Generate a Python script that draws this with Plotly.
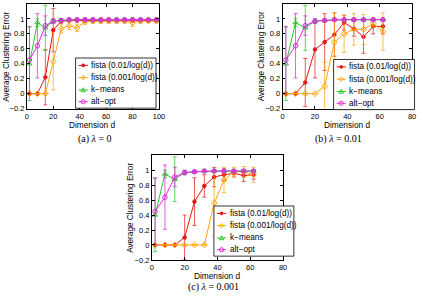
import plotly.graph_objects as go

# ---------------- data ----------------
X_A = [2, 8, 14, 20, 26, 32, 38, 44, 50, 56, 62, 68, 74, 80, 86, 92, 98]
X_BC = [2, 8, 14, 20, 26, 32, 38, 44, 50, 56, 62]

SERIES_NAMES = ["fista (0.01/log(d))", "fista (0.001/log(d))", "k\u2212means", "alt\u2212opt"]

# k-means and alt-opt (same in all panels)
KMEANS = [0.40, 0.95, 0.88, 0.97, 0.98, 0.99, 0.99, 0.99, 0.99, 0.99, 0.99, 0.99, 0.99, 0.99, 0.99, 0.99, 0.99]
KMEANS_ERR = [0.49, 0.05, 0.30, 0.03, 0.01, 0.01, 0.01, 0.01, 0.01, 0.01, 0.01, 0.01, 0.01, 0.01, 0.01, 0.01, 0.01]
ALTOPT = [0.45, 0.64, 0.91, 0.97, 0.98, 0.99, 0.99, 0.99, 0.99, 0.99, 0.99, 0.99, 0.99, 0.99, 0.99, 0.99, 0.99]
ALTOPT_ERR = [0.45, 0.43, 0.13, 0.03, 0.02, 0.01, 0.01, 0.01, 0.01, 0.01, 0.01, 0.01, 0.01, 0.01, 0.01, 0.01, 0.01]

# panel (a) lambda = 0
A_F01 = [0, 0, 0.22, 0.85, 0.97, 0.98, 0.98, 0.98, 0.98, 0.98, 0.98, 0.98, 0.98, 0.98, 0.98, 0.98, 0.98]
A_F01_ERR = [0, 0, 0.37, 0.29, 0.03, 0.02, 0.02, 0.02, 0.02, 0.02, 0.02, 0.02, 0.02, 0.02, 0.02, 0.02, 0.02]
A_F001 = [0, 0, 0, 0.43, 0.87, 0.91, 0.88, 0.96, 0.97, 0.97, 0.97, 0.97, 0.97, 0.95, 0.97, 0.97, 0.97]
A_F001_ERR = [0, 0, 0, 0.38, 0.06, 0.05, 0.05, 0.03, 0.03, 0.03, 0.03, 0.03, 0.03, 0.05, 0.03, 0.02, 0.02]

# panel (b) lambda = 0.01
B_F01 = [0, 0, 0.15, 0.59, 0.69, 0.79, 0.95, 0.87, 0.76, 0.90, 0.90]
B_F01_ERR = [0, 0, 0.32, 0.38, 0.38, 0.29, 0.10, 0.10, 0.22, 0.10, 0.10]
B_F001 = [0, 0, 0, 0, 0.10, 0.69, 0.80, 0.86, 0.86, 0.94, 0.83]
B_F001_ERR = [0, 0, 0, 0, 0.32, 0.39, 0.25, 0.21, 0.20, 0.05, 0.25]

# panel (c) lambda = 0.001
C_F01 = [0, 0, 0, 0.10, 0.58, 0.79, 0.91, 0.94, 0.96, 0.93, 0.94]
C_F01_ERR = [0, 0, 0, 0.30, 0.32, 0.15, 0.13, 0.08, 0.05, 0.08, 0.06]
C_F001 = [0, 0, 0, 0, 0, 0, 0.56, 0.87, 0.98, 0.98, 0.94]
C_F001_ERR = [0, 0, 0, 0, 0, 0, 0.44, 0.17, 0.06, 0.07, 0.10]

Y_TICKS = [-0.2, 0, 0.2, 0.4, 0.6, 0.8, 1]
Y_TICKTEXT = ["\u22120.2", "0", "0.2", "0.4", "0.6", "0.8", "1"]
X_TICKS_A = [0, 20, 40, 60, 80, 100]
X_TICKS_BC = [0, 20, 40, 60, 80]
CAPTIONS = ["(a) <i>\u03bb</i> = 0", "(b) <i>\u03bb</i> = 0.01", "(c) <i>\u03bb</i> = 0.001"]

# ---------------- style ----------------
W, H = 423, 299
COLORS = ["rgb(230,20,20)", "rgb(255,165,20)", "rgb(40,200,40)", "rgb(225,40,225)"]
ERR_COLORS = ["rgba(230,20,20,0.7)", "rgba(255,165,20,0.75)", "rgba(40,200,40,0.75)", "rgba(225,40,225,0.75)"]
SYMBOLS = ["circle", "diamond-open", "triangle-up-open", "circle-open"]
MSIZES = [3.5, 4.5, 4.5, 4.5]
FONT = "Liberation Sans, Arial, sans-serif"


def px(x):
    return x / W


def py(y):
    return 1 - y / H


fig = go.Figure()

panels = [
    dict(x=X_A, series=[(A_F01, A_F01_ERR), (A_F001, A_F001_ERR),
                        (KMEANS, KMEANS_ERR), (ALTOPT, ALTOPT_ERR)],
         xa="x", ya="y"),
    dict(x=X_BC, series=[(B_F01, B_F01_ERR), (B_F001, B_F001_ERR),
                         (KMEANS[:len(X_BC)], KMEANS_ERR[:len(X_BC)]),
                         (ALTOPT[:len(X_BC)], ALTOPT_ERR[:len(X_BC)])],
         xa="x2", ya="y2"),
    dict(x=X_BC, series=[(C_F01, C_F01_ERR), (C_F001, C_F001_ERR),
                         (KMEANS[:len(X_BC)], KMEANS_ERR[:len(X_BC)]),
                         (ALTOPT[:len(X_BC)], ALTOPT_ERR[:len(X_BC)])],
         xa="x3", ya="y3"),
]

for p in panels:
    for i, (vals, errs) in enumerate(p["series"]):
        fig.add_trace(go.Scatter(
            x=p["x"], y=vals, name=SERIES_NAMES[i], mode="lines+markers",
            line=dict(color=COLORS[i], width=1),
            marker=dict(symbol=SYMBOLS[i], size=MSIZES[i], color=COLORS[i],
                        line=dict(color=COLORS[i], width=1)),
            error_y=dict(type="data", array=errs, visible=True,
                         color=ERR_COLORS[i], thickness=1, width=2),
            xaxis=p["xa"], yaxis=p["ya"], showlegend=False, cliponaxis=True,
        ))

# plot areas in pixels: (left, right, top, bottom)
BOX_A = (25.3, 160.0, 4.0, 110.5)
BOX_B = (286.0, 418.0, 4.0, 110.5)
BOX_C = (152.7, 286.5, 158.0, 264.3)

axis_common = dict(showgrid=False, zeroline=False, showline=True, linecolor="black",
                   linewidth=0.8, mirror="ticks", ticks="inside", ticklen=3,
                   tickwidth=0.7, tickcolor="black",
                   tickfont=dict(family=FONT, size=7.5, color="black"))


def xaxis(box, rng, ticks, anchor):
    return dict(domain=[px(box[0]), px(box[1])], range=rng, tickvals=ticks,
                anchor=anchor, **axis_common)


def yaxis(box, anchor):
    return dict(domain=[py(box[3]), py(box[2])], range=[-0.2, 1.2],
                tickvals=Y_TICKS, ticktext=Y_TICKTEXT, anchor=anchor, **axis_common)


annotations = []
shapes = []


def add_titles(box, caption, cap_x, cap_y):
    l, r, t, b = box
    annotations.append(dict(text="Dimension d", x=px((l + r) / 2), y=py(b + 16.5),
                            xref="paper", yref="paper", showarrow=False,
                            xanchor="center", yanchor="middle",
                            font=dict(family=FONT, size=8.3, color="black")))
    annotations.append(dict(text="Average Clustering Error", x=px(max(l - 22, 4.5)),
                            y=py((t + b) / 2), xref="paper", yref="paper",
                            showarrow=False, textangle=-90,
                            xanchor="center", yanchor="middle",
                            font=dict(family=FONT, size=8.2, color="black")))
    annotations.append(dict(text=caption, x=px(cap_x), y=py(cap_y),
                            xref="paper", yref="paper", showarrow=False,
                            xanchor="center", yanchor="middle",
                            font=dict(family="Liberation Serif, DejaVu Serif, serif",
                                      size=10, color="black")))


def add_legend(left, top, w=82, h=51):
    shapes.append(dict(type="rect", xref="paper", yref="paper",
                       x0=px(left), x1=px(left + w), y0=py(top + h), y1=py(top),
                       fillcolor="white", line=dict(color="black", width=0.8)))
    offs = [7.5, 20, 32.5, 44.5]
    for i, o in enumerate(offs):
        yy = top + o
        shapes.append(dict(type="line", xref="paper", yref="paper",
                           x0=px(left + 3), x1=px(left + 12.5), y0=py(yy), y1=py(yy),
                           line=dict(color=COLORS[i], width=1)))
        cx = left + 7.8
        if i == 0:
            shapes.append(dict(type="circle", xref="paper", yref="paper",
                               x0=px(cx - 1.6), x1=px(cx + 1.6), y0=py(yy + 1.6), y1=py(yy - 1.6),
                               fillcolor=COLORS[i], line=dict(color=COLORS[i], width=0.5)))
        elif i == 1:
            d = 2.2
            path = (f"M {px(cx)} {py(yy - d)} L {px(cx + d)} {py(yy)} "
                    f"L {px(cx)} {py(yy + d)} L {px(cx - d)} {py(yy)} Z")
            shapes.append(dict(type="path", xref="paper", yref="paper", path=path,
                               fillcolor="rgba(255,255,255,0)", line=dict(color=COLORS[i], width=1)))
        elif i == 2:
            d = 2.2
            path = (f"M {px(cx)} {py(yy - d)} L {px(cx + d)} {py(yy + d * 0.8)} "
                    f"L {px(cx - d)} {py(yy + d * 0.8)} Z")
            shapes.append(dict(type="path", xref="paper", yref="paper", path=path,
                               fillcolor="rgba(255,255,255,0)", line=dict(color=COLORS[i], width=1)))
        else:
            shapes.append(dict(type="circle", xref="paper", yref="paper",
                               x0=px(cx - 2.1), x1=px(cx + 2.1), y0=py(yy + 2.1), y1=py(yy - 2.1),
                               fillcolor="rgba(255,255,255,0)", line=dict(color=COLORS[i], width=1)))
        annotations.append(dict(text=SERIES_NAMES[i], x=px(left + 14), y=py(yy),
                                xref="paper", yref="paper", showarrow=False,
                                xanchor="left", yanchor="middle",
                                font=dict(family=FONT, size=8.2, color="black")))


add_titles(BOX_A, CAPTIONS[0], 95, 141)
add_titles(BOX_B, CAPTIONS[1], 343, 141)
add_titles(BOX_C, CAPTIONS[2], 216, 292)
add_legend(75, 59)
add_legend(338, 60.5, w=82.5)
add_legend(216, 209.5, w=81.5)

fig.update_layout(
    width=W, height=H, autosize=False,
    margin=dict(l=0, r=0, t=0, b=0, pad=0),
    paper_bgcolor="white", plot_bgcolor="white",
    showlegend=False,
    xaxis=xaxis(BOX_A, [0, 100], X_TICKS_A, "y"),
    yaxis=yaxis(BOX_A, "x"),
    xaxis2=xaxis(BOX_B, [0, 80], X_TICKS_BC, "y2"),
    yaxis2=yaxis(BOX_B, "x2"),
    xaxis3=xaxis(BOX_C, [0, 80], X_TICKS_BC, "y3"),
    yaxis3=yaxis(BOX_C, "x3"),
    annotations=annotations,
    shapes=shapes,
)

fig.write_html("out.html")
